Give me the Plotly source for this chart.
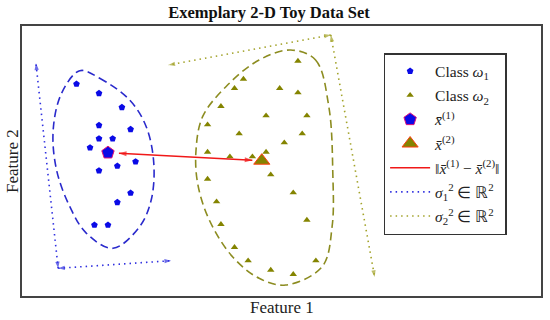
import plotly.graph_objects as go
import numpy as np

# ---- data (feature space units) ----
class1_x = [54.7, 77.3, 100.3, 77.3, 109, 77.3, 91, 68.3, 114, 95.7, 77.3, 109, 95.7, 72.7, 86.3]
class1_y = [212, 202.7, 188.7, 170.7, 166.7, 157.3, 157.3, 148.3, 134.3, 130, 125.3, 103, 93.7, 71, 71]
class2_x = [277, 222.3, 213.3, 258.7, 277, 199.7, 245, 286, 186.3, 218, 281.3, 263.3, 186.3, 245,
            208.7, 231.3, 249.7, 186.3, 272.3, 195.3, 199.7, 286, 213.3, 227, 295, 249.7, 272.3]
class2_y = [235, 217, 207.7, 207.7, 203.3, 189.7, 180.3, 180.3, 171.3, 162.3, 162.3, 153.3, 144, 144,
            139.3, 139.3, 121.3, 117, 103.3, 94.3, 71.7, 76, 48.7, 35.3, 35.3, 26, 21.7]
mean1 = (86.3, 143.3)
mean2 = (240.7, 135.3)

hull1_x = [58, 78, 108, 124.7, 132.3, 129.7, 118, 91.3, 64.7, 48, 34.7, 31.3, 39.7, 58]
hull1_y = [225.3, 217.7, 196, 169.3, 132.7, 96, 69.3, 47.7, 62.7, 89.3, 126, 166, 202.7, 225.3]
hull2_x = [269.7, 294.7, 308, 312, 311.3, 301.3, 264.7, 238, 211.3, 188, 176.3, 174.7, 181.3, 204.7, 238, 269.7]
hull2_y = [246, 236, 189.3, 123, 69.3, 29.3, 11, 17.7, 39.3, 76, 112.7, 146, 179.3, 209.3, 236, 246]

# variance arrows: (start, corner, end)
var1_pts = [(14, 232.7), (36.3, 27.7), (149.7, 35.3)]
var2_pts = [(147, 231), (310, 261), (354, 19)]

BLUE = "#0a0ae6"
OLIVE = "#848400"
OLIVE_LIGHT = "#a3a32a"
RED = "#f01818"
FONT = "Liberation Serif"

fig = go.Figure()

# hulls
fig.add_trace(go.Scatter(x=hull1_x, y=hull1_y, mode="lines", line=dict(color="#2a2acc", width=1.6, dash="8px,4.5px", shape="spline", smoothing=1.0),
                         showlegend=False, hoverinfo="skip"))
fig.add_trace(go.Scatter(x=hull2_x, y=hull2_y, mode="lines", line=dict(color="#8c8c20", width=1.6, dash="8px,4.5px", shape="spline", smoothing=1.0),
                         showlegend=False, hoverinfo="skip"))


def arrow_traces(p_a, p_b, color, dash, width, name, head, legendgroup, showlegend):
    xs = [p_a[0], p_b[0]]
    ys = [p_a[1], p_b[1]]
    tr_line = go.Scatter(x=xs, y=ys, mode="lines", line=dict(color=color, width=width, dash=dash),
                         name=name, legendgroup=legendgroup, showlegend=showlegend, hoverinfo="skip")
    tr_head = go.Scatter(x=[p_a[0], p_b[0], p_a[0]], y=[p_a[1], p_b[1], p_a[1]], mode="markers",
                         marker=dict(symbol="arrow", size=[0, head, head], color=color, angleref="previous",
                                     standoff=0, line=dict(width=0)),
                         showlegend=False, legendgroup=legendgroup, hoverinfo="skip")
    return [tr_line, tr_head]


# class points
fig.add_trace(go.Scatter(x=class1_x, y=class1_y, mode="markers", name="Class <i>ω</i><sub>1</sub>",
                         marker=dict(symbol="pentagon", size=7, color=BLUE, line=dict(width=0)), legendgroup="a"))
fig.add_trace(go.Scatter(x=class2_x, y=class2_y, mode="markers", name="Class <i>ω</i><sub>2</sub>",
                         marker=dict(symbol="triangle-up", size=6.5, color=OLIVE, line=dict(width=0)), legendgroup="b"))

# distance arrow between means
c1 = np.array(mean1)
c2 = np.array(mean2)
u = (c2 - c1) / np.linalg.norm(c2 - c1)
pa = c1 + u * 11
pb = c2 - u * 9.5

fig.add_trace(go.Scatter(x=[mean1[0]], y=[mean1[1]], mode="markers", name="<i>x̄</i><sup>(1)</sup>",
                         marker=dict(symbol="pentagon", size=13, color=BLUE, line=dict(color="#e0107a", width=1)), legendgroup="c"))
fig.add_trace(go.Scatter(x=[mean2[0]], y=[mean2[1]], mode="markers", name="<i>x̄</i><sup>(2)</sup>",
                         marker=dict(symbol="triangle-up", size=14, color=OLIVE, line=dict(color="#ff4010", width=1)), legendgroup="d"))
for t in arrow_traces(pa, pb, RED, "solid", 1.5,
                      "‖<i>x̄</i><sup>(1)</sup> − <i>x̄</i><sup>(2)</sup>‖", 8, "e", True):
    fig.add_trace(t)

# variance arrows
for i, (a, b) in enumerate([(var1_pts[1], var1_pts[0]), (var1_pts[1], var1_pts[2])]):
    for t in arrow_traces(a, b, "#3030e0", "1.5px,4px", 1.6,
                          "<i>σ</i><sub>1</sub><sup>2</sup> ∈ ℝ<sup>2</sup>", 7, "f", i == 0):
        fig.add_trace(t)
for i, (a, b) in enumerate([(var2_pts[1], var2_pts[0]), (var2_pts[1], var2_pts[2])]):
    for t in arrow_traces(a, b, OLIVE_LIGHT, "1.5px,4px", 1.6,
                          "<i>σ</i><sub>2</sub><sup>2</sup> ∈ ℝ<sup>2</sup>", 7, "g", i == 0):
        fig.add_trace(t)

fig.update_layout(
    width=550, height=320,
    margin=dict(l=22, r=7, t=26, b=24),
    paper_bgcolor="white", plot_bgcolor="white",
    font=dict(family=FONT, size=15, color="#222"),
    title=dict(text="<b>Exemplary 2-D Toy Data Set</b>", x=269 / 550, xanchor="center", y=1 - 12 / 320, yanchor="middle",
               yref="container", font=dict(family=FONT, size=16.5, color="#111")),
    xaxis=dict(range=[0, 521], showgrid=False, zeroline=False, showticklabels=False, ticks="",
               showline=True, mirror=True, linecolor="#444", linewidth=2),
    yaxis=dict(range=[0, 270], showgrid=False, zeroline=False, showticklabels=False, ticks="",
               showline=True, mirror=True, linecolor="#444", linewidth=2),
    legend=dict(x=(385 - 22) / 521, y=(296 - 53) / 270, xanchor="left", yanchor="top",
                bgcolor="white", bordercolor="#333", borderwidth=1.5,
                font=dict(family=FONT, size=15.5), tracegroupgap=1, itemsizing="trace", itemwidth=40),
    showlegend=True,
    annotations=[
        dict(text="Feature 1", xref="paper", yref="paper", x=(283 - 22) / 521, y=(296 - 307) / 270,
             xanchor="center", yanchor="middle", showarrow=False, font=dict(family=FONT, size=17, color="#222")),
        dict(text="Feature 2", xref="paper", yref="paper", x=(12 - 22) / 521, y=(296 - 161) / 270,
             xanchor="center", yanchor="middle", textangle=-90, showarrow=False,
             font=dict(family=FONT, size=17, color="#222")),
    ],
)

fig.write_html("out.html", config={"displayModeBar": False},
               post_script="document.body.style.margin='0';document.body.style.padding='0';")
